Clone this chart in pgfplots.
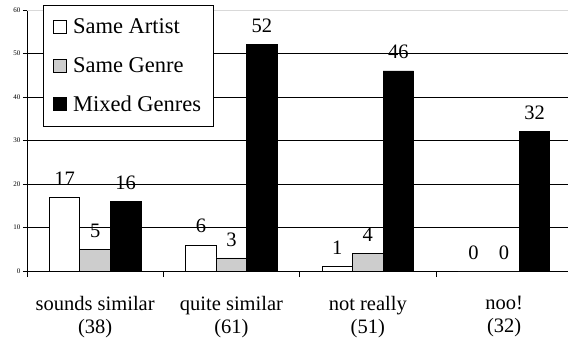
\documentclass[border=0pt]{standalone}
\usepackage{pgfplots}
\pgfplotsset{compat=1.18}
\usepackage{fontspec}
\setmainfont{Liberation Serif}
\definecolor{genregray}{RGB}{205,205,205}
\newcommand{\bigfont}{\fontsize{20.5}{22.5}\selectfont}
\newcommand{\legfont}{\fontsize{22.5}{24}\selectfont}
\begin{document}
\begin{tikzpicture}
\begin{axis}[
  scale only axis,
  width=541pt, height=261pt,
  at={(0,0)}, anchor=south west,
  xmin=-0.5, xmax=3.469,
  ymin=0, ymax=60,
  axis lines=left,
  axis line style={-, black, line width=0.8pt},
  xtick={0,1,2,3},
  xticklabels={{sounds similar\\(38)},{quite similar\\(61)},{not really\\(51)},{noo!\\(32)}},
  xticklabel style={font=\bigfont, align=center, yshift=-18pt},
  major x tick style={draw=none},
  minor xtick={-0.5,0.5,1.5,2.5},
  minor x tick style={black, line width=0.8pt},
  minor tick length=6pt,
  tick align=outside,
  ytick={0,10,20,30,40,50},
  extra y ticks={60},
  extra y tick style={grid style={black!15, line width=0.8pt}},
  major tick length=4pt,
  y tick style={black, line width=0.6pt},
  yticklabel style={font=\fontsize{7}{8}\selectfont, xshift=1pt},
  /pgf/number format/assume math mode=true,
  ymajorgrids,
  grid style={black, line width=0.8pt},
  clip=false,
  legend style={
    at={(axis description cs:0.0296,1.019)}, anchor=north west,
    draw=black, line width=0.8pt, font=\legfont,
    row sep=18pt, inner xsep=10pt, inner ysep=11.5pt,
    cells={anchor=west},
  },
  legend image code/.code={\draw[#1, line width=0.6pt] (0pt,-6.5pt) rectangle (13pt,6.5pt);\path (17pt,0pt);},
  nodes near coords,
  every node near coord/.append style={font=\bigfont, black, yshift=8pt},
]
\addplot[ybar, bar width=0.224, bar shift=0, draw=black, line width=0.8pt, fill=white]
  coordinates {(-0.224,17) (0.776,6) (1.776,1) (2.776,0)};
\addplot[ybar, bar width=0.224, bar shift=0, draw=black, line width=0.8pt, fill=genregray]
  coordinates {(0,5) (1,3) (2,4) (3,0)};
\addplot[ybar, bar width=0.224, bar shift=0, draw=black, line width=0.8pt, fill=black]
  coordinates {(0.224,16) (1.224,52) (2.224,46) (3.224,32)};
\legend{Same Artist, Same Genre, Mixed Genres}
\end{axis}
\pgfresetboundingbox
\path (-27pt,-67pt) rectangle (541pt,271pt);
\end{tikzpicture}
\end{document}
